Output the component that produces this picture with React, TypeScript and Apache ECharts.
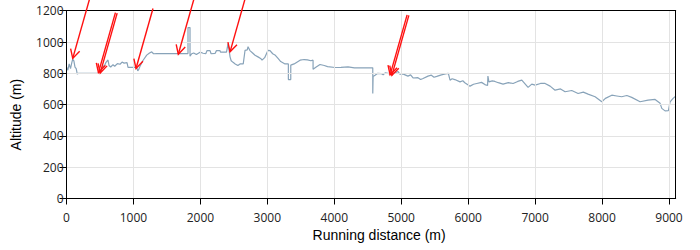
import React, { useEffect, useRef } from "react";
import * as echarts from "echarts";

// Running distance (m) of each profile point
const distance = [
  0, 20, 40, 60, 80, 93, 110, 127, 145, 161, 180, 500, 520, 545, 560, 590, 620, 635, 660, 695,
  720, 760, 800, 830, 860, 904, 919, 1049, 1064, 1080, 1098, 1140, 1198, 1240, 1273, 1300, 1348,
  1796, 1815, 1815, 1845, 1845, 1870, 1900, 1940, 1995, 2040, 2080, 2100, 2144, 2160, 2219, 2240,
  2293, 2300, 2390, 2413, 2425, 2443, 2460, 2488, 2520, 2560, 2592, 2640, 2667, 2700, 2712, 2740,
  2780, 2816, 2860, 2900, 2921, 2960, 3010, 3040, 3080, 3120, 3160, 3200, 3264, 3314, 3314, 3350,
  3350, 3400, 3489, 3550, 3600, 3650, 3683, 3683, 3730, 3787, 3850, 3900, 4011, 4100, 4206, 4300,
  4575, 4575, 4580, 4609, 4650, 4700, 4730, 4760, 4800, 4863, 4920, 4950, 4980, 5032, 5100, 5140,
  5177, 5250, 5290, 5326, 5400, 5450, 5490, 5531, 5600, 5660, 5704, 5729, 5760, 5800, 5879, 5920,
  5950, 6028, 6080, 6128, 6200, 6250, 6290, 6295, 6305, 6310, 6360, 6400, 6450, 6521, 6600, 6671,
  6740, 6801, 6895, 6950, 7000, 7080, 7149, 7224, 7298, 7380, 7448, 7547, 7642, 7720, 7791, 7896,
  7996, 8050, 8145, 8220, 8294, 8370, 8443, 8568, 8687, 8792, 8867, 8892, 8941, 8991, 9016, 9061,
  9100,
];

// Altitude (m) at each point
const altitude = [
  840, 820, 860, 830, 870, 890, 880, 840, 830, 795, 800, 800, 820, 850, 840, 870, 885, 850, 840, 855,
  845, 862, 858, 872, 865, 868, 838, 838, 815, 825, 845, 880, 916, 930, 937, 925, 926,
  926, 926, 1092, 1092, 909, 925, 930, 920, 935, 928, 925, 945, 945, 925, 927, 945,
  945, 935, 935, 990, 960, 905, 880, 870, 860, 850, 860, 860, 947, 950, 970, 945,
  930, 915, 905, 895, 884, 900, 947, 945, 925, 915, 895, 875, 860, 860, 760, 760,
  852, 860, 884, 888, 886, 880, 884, 826, 840, 856, 850, 843, 837, 838, 841, 835,
  835, 671, 780, 788, 800, 798, 790, 803, 800, 795, 805, 812, 795, 795, 782, 790,
  770, 772, 760, 767, 782, 788, 775, 780, 790, 796, 799, 756, 765, 760, 745, 752,
  740, 718, 730, 735, 742, 728, 722, 782, 782, 745, 752, 748, 740, 731, 740, 735,
  748, 756, 710, 731, 724, 735, 735, 718, 692, 700, 682, 690, 671, 680, 667, 650,
  618, 640, 660, 655, 650, 658, 646, 618, 629, 633, 608, 576, 560, 562, 618, 640,
  654,
];

// Annotation arrows: tip positions in data units
const arrowDistance = [93, 490, 1038, 1670, 2443, 4847];
const arrowAltitude = [895, 803, 831, 922, 937, 788];
const arrowDouble = [false, true, false, false, false, true];

const xTicks = [0, 1000, 2000, 3000, 4000, 5000, 6000, 7000, 8000, 9000];
const yTicks = [0, 200, 400, 600, 800, 1000, 1200];
const xMax = 9100;

export default function App() {
  const ref = useRef<HTMLDivElement>(null);

  useEffect(() => {
    if (!ref.current) return;
    const chart = echarts.init(ref.current, null, { renderer: "svg" });
    const data = distance.map((d, i) => [d, altitude[i]]);
    const labelStyle = {
      fontFamily: "Open Sans",
      fontSize: 12,
      color: "#222",
      formatter: (v: number) => String(v),
    };
    const frameAxis = {
      type: "value",
      axisLine: { show: true, onZero: false, lineStyle: { color: "#000", width: 1 } },
      axisTick: { show: false },
      axisLabel: { show: false },
      splitLine: { show: false },
    };
    chart.setOption({
      animation: false,
      backgroundColor: "#fff",
      grid: {
        left: 66.5,
        right: 24.3,
        top: 10.7,
        bottom: 51.5,
      },
      xAxis: [
        {
          type: "value",
          min: xTicks[0],
          max: xMax,
          interval: 1000,
          name: "Running distance (m)",
          nameLocation: "middle",
          nameGap: 27,
          nameTextStyle: {
            fontFamily: "Liberation Sans",
            fontSize: 14,
            color: "#000",
            padding: [0, 0, 0, 16],
          },
          axisLine: { show: true, onZero: false, lineStyle: { color: "#000", width: 1 } },
          axisTick: { show: true, length: 6, lineStyle: { color: "#000" } },
          axisLabel: { ...labelStyle, margin: 13, showMaxLabel: false },
          splitLine: { show: true, lineStyle: { color: "#e3e3e3", width: 1 } },
          z: 5,
        },
        { ...frameAxis, position: "top", min: 0, max: xMax, z: 5 },
      ],
      yAxis: [
        {
          type: "value",
          min: yTicks[0],
          max: yTicks[yTicks.length - 1],
          interval: 200,
          name: "Altitude (m)",
          nameLocation: "middle",
          nameGap: 44,
          nameTextStyle: {
            fontFamily: "Liberation Sans",
            fontSize: 14,
            color: "#000",
            padding: [0, 20, 0, 0],
          },
          axisLine: { show: true, lineStyle: { color: "#000", width: 1 } },
          axisTick: { show: true, length: 7, lineStyle: { color: "#000" } },
          axisLabel: { ...labelStyle, margin: 3 },
          splitLine: { show: true, lineStyle: { color: "#e3e3e3", width: 1 } },
          z: 5,
        },
        { ...frameAxis, position: "right", min: 0, max: 1200, z: 5 },
      ],
      series: [
        {
          type: "line",
          data,
          showSymbol: false,
          lineStyle: { color: "#88a3b9", width: 1.2 },
          z: 3,
        },
      ],
    });

    const graphics: any[] = [];
    const red = "#ff1010";
    arrowDistance.forEach((d, i) => {
      const tip = chart.convertToPixel({ xAxisIndex: 0, yAxisIndex: 0 }, [d, arrowAltitude[i]]) as number[];
      const dx = 17;
      const dy = -60;
      const len = Math.sqrt(dx * dx + dy * dy);
      const ux = dx / len;
      const uy = dy / len;
      const offsets = arrowDouble[i] ? [-0.9, 0.9] : [0];
      offsets.forEach((o) => {
        const px = -uy * o;
        const py = ux * o;
        const tx = tip[0] + px;
        const ty = tip[1] + py;
        graphics.push({
          type: "line",
          z: 10,
          shape: { x1: tx, y1: ty, x2: tx + dx, y2: ty + dy },
          style: { stroke: red, lineWidth: 1.4 },
        });
        const ang = (28 * Math.PI) / 180;
        const armLen = 10;
        const rot = (a: number) => [
          ux * Math.cos(a) - uy * Math.sin(a),
          ux * Math.sin(a) + uy * Math.cos(a),
        ];
        const a1 = rot(ang);
        const a2 = rot(-ang);
        graphics.push({
          type: "polyline",
          z: 10,
          shape: {
            points: [
              [tx + a1[0] * armLen, ty + a1[1] * armLen],
              [tx, ty],
              [tx + a2[0] * armLen, ty + a2[1] * armLen],
            ],
          },
          style: { stroke: red, lineWidth: 1.4, fill: null },
        });
      });
    });
    chart.setOption({ graphic: graphics });

    return () => chart.dispose();
  }, []);

  return (
    <div
      ref={ref}
      style={{ position: "fixed", left: 0, top: 0, width: 700, height: 250 }}
    />
  );
}
